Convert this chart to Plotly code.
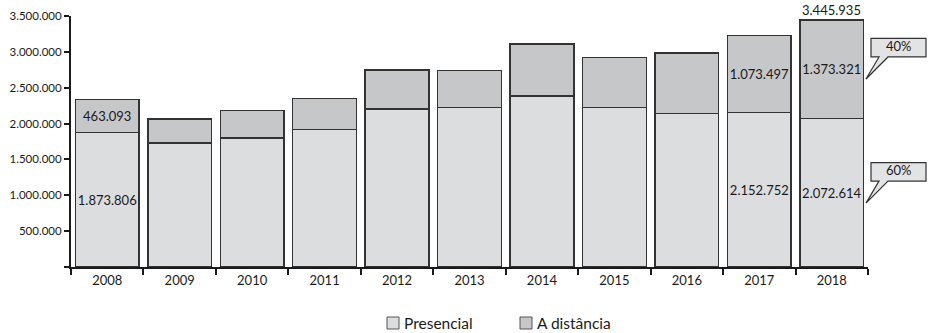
import plotly.graph_objects as go

anos = ["2008", "2009", "2010", "2011", "2012", "2013", "2014", "2015", "2016", "2017", "2018"]
presencial = [1873806, 1732613, 1801901, 1915098, 2204013, 2227606, 2383044, 2225663, 2142463, 2152752, 2072614]
distancia = [463093, 332469, 380328, 431597, 542633, 515405, 727738, 694559, 843181, 1073497, 1373321]
rotulados = ["2008", "2017", "2018"]
ytick_vals = [0, 500000, 1000000, 1500000, 2000000, 2500000, 3000000, 3500000]
series_names = ["Presencial", "A distância"]
series_colors = ["#dcdddf", "#c6c7c9"]

FONT = "Lato"
TXT = "#1a1a1a"
EDGE = "#333333"
total = [p + d for p, d in zip(presencial, distancia)]

def fmt(v):
    return f"{v:,}".replace(",", ".")

txt_p = [fmt(v) if a in rotulados else "" for a, v in zip(anos, presencial)]
txt_d = [fmt(v) if a in rotulados else "" for a, v in zip(anos, distancia)]

fig = go.Figure()
for name, vals, txt, col in [(series_names[0], presencial, txt_p, series_colors[0]),
                             (series_names[1], distancia, txt_d, series_colors[1])]:
    fig.add_trace(go.Bar(
        x=anos, y=vals, name=name,
        marker=dict(color=col, line=dict(color=EDGE, width=1.5)),
        text=txt, textposition="inside", insidetextanchor="middle",
        constraintext="none", textangle=0,
        textfont=dict(family=FONT, size=13, color=TXT),
        showlegend=False,
    ))

last = len(anos) - 1
# total above last bar
fig.add_annotation(x=last, y=total[-1], text=fmt(total[-1]), showarrow=False,
                   xanchor="center", yanchor="bottom", yshift=0,
                   font=dict(family=FONT, size=13, color=TXT))

# geometry helpers (pixel -> paper)
L, R, T, B = 71, 868, 16, 267
def px(x):
    return (x - L) / (R - L)
def py(y):
    return (B - y) / (B - T)

# callouts for 2018 shares
share_d = round(distancia[-1] / total[-1] * 100)
share_p = round(presencial[-1] / total[-1] * 100)
callouts = [
    (presencial[-1] + 0.40 * distancia[-1], f"{share_d}%"),
    (0.43 * presencial[-1], f"{share_p}%"),
]
per_px = 3500000 / (B - T)
for tip, label in callouts:
    bottom = tip + 22 * per_px
    top = bottom + 18.5 * per_px
    x0, x1 = px(871), px(926)
    tl, tr, tipx = px(879), px(888), px(866)
    path = (f"M {x0},{top} L {x1},{top} L {x1},{bottom} L {tr},{bottom} "
            f"L {tipx},{tip} L {tl},{bottom} L {x0},{bottom} Z")
    fig.add_shape(type="path", path=path, xref="paper", yref="y",
                  fillcolor="#e2e3e5", line=dict(color=EDGE, width=1.2), layer="above")
    fig.add_annotation(xref="paper", yref="y", x=px(899), y=(top + bottom) / 2 + 1.5 * per_px,
                       xanchor="center", yanchor="middle",
                       text=label, showarrow=False,
                       font=dict(family=FONT, size=13, color=TXT))

# manual legend (square + label)
leg = [(387, series_names[0], series_colors[0]), (520, series_names[1], series_colors[1])]
for x, name, col in leg:
    fig.add_shape(type="rect", xref="paper", yref="paper",
                  x0=px(x), x1=px(x + 12), y0=py(329), y1=py(317),
                  fillcolor=col, line=dict(color="#555555", width=1))
    fig.add_annotation(xref="paper", yref="paper", x=px(x + 15), y=py(323),
                       xanchor="left", yanchor="middle", text=name, showarrow=False,
                       font=dict(family=FONT, size=15.5, color=TXT))

fig.update_layout(
    width=928, height=333,
    margin=dict(l=L, r=928 - R, t=T, b=333 - B, autoexpand=False),
    paper_bgcolor="white", plot_bgcolor="white",
    barmode="stack", bargap=0.12,
    separators=",.",
    font=dict(family=FONT, size=12, color=TXT),
    showlegend=False,
)
fig.update_xaxes(
    type="category", range=[-0.5, len(anos) - 0.5],
    showline=True, linecolor=TXT, linewidth=2,
    ticks="outside", tickson="boundaries", ticklen=6, tickwidth=2, tickcolor=TXT,
    showgrid=False, tickfont=dict(family=FONT, size=13, color=TXT),
)
fig.update_yaxes(
    range=[0, 3500000],
    tickvals=ytick_vals,
    ticktext=["" if v == 0 else fmt(v) for v in ytick_vals],
    showline=True, linecolor=TXT, linewidth=2,
    ticks="outside", ticklen=5, tickwidth=2, tickcolor=TXT,
    showgrid=False, zeroline=False,
    tickfont=dict(family=FONT, size=11.5, color=TXT),
)
fig.update_traces(cliponaxis=False)

fig.write_html("out.html")
